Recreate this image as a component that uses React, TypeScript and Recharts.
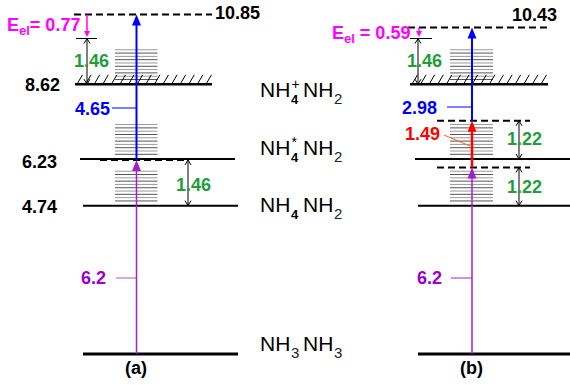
import React from 'react'
import { ComposedChart, XAxis, YAxis, ReferenceLine, ReferenceArea, ReferenceDot } from 'recharts'

const W = 570
const H = 385
const Y_MIN = -0.99
const Y_MAX = 11.31
const FONT = '"Liberation Sans", Arial, sans-serif'

// energies in eV
const levelEnergies = [0, 4.74, 6.23, 8.62]
const levelTags = ['', '4.74', '6.23', '8.62']
// [sub/sup of first NH, subscript of second NH]
const levelFormulas = [
  { sub: '3', sup: '', sub2: '3', bold: false },
  { sub: '4', sup: '', sub2: '2', bold: true },
  { sub: '4', sup: '*', sub2: '2', bold: true },
  { sub: '4', sup: '+', sub2: '2', bold: true },
]
const panelLabels = ['(a)', '(b)']

// panel (a)
const aPhotons = [6.2, 4.65]
const aVib = 1.46
const aEel = 0.77
// panel (b)
const bPhotons = [6.2, 1.49, 2.98]
const bVib = 1.22
const bEel = 0.59
const ionVib = 1.46

const [E0, E1, E2, E3] = levelEnergies
const aVirtual = E1 + aVib
const aTop = aVirtual + aPhotons[1]
const ionTop = E3 + ionVib
const bVirt1 = E1 + bVib
const bVirt2 = E2 + bVib
const bTop = bVirt2 + bPhotons[2]

const COL = {
  blue: '#0000ff',
  purple: '#a020d0',
  purpleText: '#9900cc',
  purpleTick: '#cc88ee',
  green: '#1f9e3a',
  red: '#ff0000',
  magenta: '#ff00ff',
}

// layout (x in px, since x-domain is the pixel width)
const A = { lvl: [[83, 238], [83, 238], [80, 235], [75, 212]], top: [74, 212], virt: [100, 185], ax: 136.5 }
const B = { lvl: [[418, 570], [418, 570], [415, 570], [410, 548]], top: [408, 547], virt: [437, 530], ax: 472 }
const STACK_LO = 0.15
const STACK_HI = 1.1

// convert a pixel row to energy, used only to place free text
const yAt = (py: number) => Y_MAX - (py * (Y_MAX - Y_MIN)) / H

const arrowShape = (color: string, w: number, head: number, hw: number) => (p: any) => {
  const { x1, y1, x2, y2 } = p
  const dir = y2 < y1 ? 1 : -1
  return (
    <g>
      <line x1={x1} y1={y1} x2={x2} y2={y2 + dir * head * 0.7} stroke={color} strokeWidth={w} />
      <polygon points={`${x2},${y2} ${x2 - hw / 2},${y2 + dir * head} ${x2 + hw / 2},${y2 + dir * head}`} fill={color} />
    </g>
  )
}

const dblArrow = (p: any) => {
  const { x1, y1, y2 } = p
  const top = Math.min(y1, y2)
  const bot = Math.max(y1, y2)
  return (
    <g stroke="#000" strokeWidth={1} fill="none">
      <line x1={x1} y1={top} x2={x1} y2={bot} />
      <polyline points={`${x1 - 3},${top + 5} ${x1},${top} ${x1 + 3},${top + 5}`} />
      <polyline points={`${x1 - 3},${bot - 5} ${x1},${bot} ${x1 + 3},${bot - 5}`} />
    </g>
  )
}

const hatchShape = (p: any) => {
  const { x, y, width, height } = p
  const xs: number[] = []
  for (let xi = x + 2; xi + 5 <= x + width; xi += 8.6) xs.push(xi)
  return (
    <g stroke="#000" strokeWidth={1}>
      {xs.map((xi) => (
        <line key={xi} x1={xi} y1={y + height} x2={xi + 5.5} y2={y} />
      ))}
    </g>
  )
}

const stackShape = (p: any) => {
  const { x, y, width, height } = p
  const n = 10
  const rows = Array.from({ length: n }, (_, i) => y + (i * height) / (n - 1))
  return (
    <g>
      {rows.map((ry, i) => (
        <line key={i} x1={x} y1={ry} x2={x + width} y2={ry} stroke={i % 2 ? '#555' : '#999'} strokeWidth={1} />
      ))}
    </g>
  )
}

const txt = (key: string, x: number, y: number, content: React.ReactNode, props: any = {}) => (
  <ReferenceDot
    key={key}
    x={x}
    y={y}
    r={0}
    ifOverflow="visible"
    shape={(p: any) => (
      <text x={p.cx} y={p.cy} fontFamily={FONT} fontWeight="bold" fontSize={18} dominantBaseline="central" {...props}>
        {content}
      </text>
    )}
  />
)

const formulaShape = (f: (typeof levelFormulas)[number]) => (p: any) => {
  const x = p.cx
  const b = p.cy
  return (
    <g fontFamily={FONT} fill="#000">
      <text x={x} y={b} fontSize={21}>NH</text>
      <text x={x + 31} y={b + 7} fontSize={f.bold ? 13 : 15} fontWeight={f.bold ? 'bold' : 'normal'} fill={f.bold ? '#000' : '#222'}>{f.sub}</text>
      {f.sup && <text x={x + 31.5} y={b - 8} fontSize={14}>{f.sup}</text>}
      <text x={x + 43} y={b} fontSize={21}>NH</text>
      <text x={x + 74} y={b + 7} fontSize={15} fill="#222">{f.sub2}</text>
    </g>
  )
}

const seg = (key: string, x1: number, x2: number, e: number, stroke: string, w: number, dash?: string) => (
  <ReferenceLine
    key={key}
    segment={[{ x: x1, y: e }, { x: x2, y: e }]}
    stroke={stroke}
    strokeWidth={w}
    strokeDasharray={dash}
    ifOverflow="visible"
  />
)

export default function App() {
  const labelBase = [351, 212, 155, 97]
  return (
    <div style={{ position: 'absolute', left: 0, top: 0, background: '#fff' }}>
      <ComposedChart width={W} height={H} margin={{ top: 0, right: 0, bottom: 0, left: 0 }}>
        <XAxis type="number" dataKey="x" domain={[0, W]} allowDataOverflow hide />
        <YAxis type="number" domain={[Y_MIN, Y_MAX]} allowDataOverflow hide />

        {/* vibrational stacks */}
        {[E1, E2, E3].map((e, i) => (
          <ReferenceArea key={`sa${i}`} x1={115} x2={157.5} y1={e + STACK_LO} y2={e + STACK_HI} ifOverflow="visible" shape={stackShape} />
        ))}
        {[E1, E2, E3].map((e, i) => (
          <ReferenceArea key={`sb${i}`} x1={450} x2={493} y1={e + STACK_LO} y2={e + STACK_HI} ifOverflow="visible" shape={stackShape} />
        ))}

        {/* ionization continuum hatching */}
        <ReferenceArea x1={A.lvl[3][0]} x2={A.lvl[3][1]} y1={E3} y2={E3 + 0.3} ifOverflow="visible" shape={hatchShape} />
        <ReferenceArea x1={B.lvl[3][0]} x2={B.lvl[3][1]} y1={E3} y2={E3 + 0.3} ifOverflow="visible" shape={hatchShape} />

        {/* levels */}
        {levelEnergies.map((e, i) => seg(`la${i}`, A.lvl[i][0], A.lvl[i][1], e, '#000', i === 0 ? 3 : i === 3 ? 2.5 : 2))}
        {levelEnergies.map((e, i) => seg(`lb${i}`, B.lvl[i][0], B.lvl[i][1], e, '#000', i === 0 ? 3 : i === 3 ? 2.5 : 2))}
        {seg('atop', A.top[0], A.top[1], aTop, '#000', 2, '7 4')}
        {seg('avirt', A.virt[0], A.virt[1], aVirtual, '#000', 2, '7 4')}
        {seg('btop', B.top[0], B.top[1], bTop, '#000', 2, '7 4')}
        {seg('bv1', B.virt[0], B.virt[1], bVirt1, '#000', 2, '7 4')}
        {seg('bv2', B.virt[0], B.virt[1], bVirt2, '#000', 2, '7 4')}

        {/* ticks at top of ion vib range */}
        {seg('ta', 76, 97, ionTop, '#000', 1)}
        {seg('tb', 410, 432, ionTop, '#000', 1)}

        {/* leader ticks */}
        {seg('lk1', 112, A.ax, yAt(108), COL.blue, 1)}
        {seg('lk2', 116, A.ax, yAt(278), COL.purpleTick, 1.5)}
        {seg('lk3', 447, B.ax, yAt(107), COL.blue, 1)}
        {seg('lk4', 451, B.ax, yAt(278), COL.purple, 1)}
        <ReferenceLine segment={[{ x: 444, y: yAt(135) }, { x: 470, y: yAt(146) }]} stroke="#ff6020" strokeWidth={1} ifOverflow="visible" />

        {/* transitions */}
        <ReferenceLine segment={[{ x: A.ax, y: E0 }, { x: A.ax, y: aVirtual }]} ifOverflow="visible" shape={arrowShape(COL.purple, 1.5, 11, 9)} />
        <ReferenceLine segment={[{ x: A.ax, y: aVirtual }, { x: A.ax, y: aTop }]} ifOverflow="visible" shape={arrowShape(COL.blue, 2, 11, 9)} />
        <ReferenceLine segment={[{ x: B.ax, y: E0 }, { x: B.ax, y: bVirt1 }]} ifOverflow="visible" shape={arrowShape(COL.purple, 1.5, 11, 9)} />
        <ReferenceLine segment={[{ x: B.ax, y: bVirt1 }, { x: B.ax, y: bVirt2 }]} ifOverflow="visible" shape={arrowShape(COL.red, 2.5, 11, 9)} />
        <ReferenceLine segment={[{ x: B.ax, y: bVirt2 }, { x: B.ax, y: bTop }]} ifOverflow="visible" shape={arrowShape(COL.blue, 2, 11, 9)} />

        {/* electron kinetic energy */}
        <ReferenceLine segment={[{ x: 87, y: aTop }, { x: 87, y: ionTop + 0.05 }]} ifOverflow="visible" shape={arrowShape(COL.magenta, 1.5, 6, 6)} />
        <ReferenceLine segment={[{ x: 419, y: bTop }, { x: 419, y: ionTop + 0.05 }]} ifOverflow="visible" shape={arrowShape(COL.magenta, 1.5, 6, 6)} />

        {/* vib spacing double arrows */}
        <ReferenceLine segment={[{ x: 87, y: E3 }, { x: 87, y: ionTop }]} ifOverflow="visible" shape={dblArrow} />
        <ReferenceLine segment={[{ x: 418, y: E3 }, { x: 418, y: ionTop }]} ifOverflow="visible" shape={dblArrow} />
        <ReferenceLine segment={[{ x: 188, y: E1 }, { x: 188, y: aVirtual }]} ifOverflow="visible" shape={dblArrow} />
        <ReferenceLine segment={[{ x: 519, y: E1 }, { x: 519, y: bVirt1 }]} ifOverflow="visible" shape={dblArrow} />
        <ReferenceLine segment={[{ x: 519, y: E2 }, { x: 519, y: bVirt2 }]} ifOverflow="visible" shape={dblArrow} />

        {/* level value labels */}
        {levelTags.map((t, i) => (t ? txt(`tag${i}`, i === 3 ? 25 : 22, levelEnergies[i], t, { dy: i === 2 ? 3 : 1 }) : null))}
        {txt('vtop-a', 215, aTop, aTop.toFixed(2), { dy: -1 })}
        {txt('vtop-b', 512, bTop, bTop.toFixed(2), { dy: -13 })}

        {/* formulas */}
        {levelFormulas.map((f, i) => (
          <ReferenceDot key={`f${i}`} x={260} y={yAt(labelBase[i])} r={0} ifOverflow="visible" shape={formulaShape(f)} />
        ))}

        {/* panel (a) labels */}
        {txt('eela', 7, yAt(25), (
          <>
            E<tspan fontSize={13} dy={5}>el</tspan>
            <tspan dy={-5}>{`= ${aEel.toFixed(2)}`}</tspan>
          </>
        ), { fill: COL.magenta })}
        {txt('viba', 74, yAt(61), ionVib.toFixed(2), { fill: COL.green })}
        {txt('pa2', 75, yAt(109), aPhotons[1].toFixed(2), { fill: COL.blue })}
        {txt('viba2', 176, yAt(185), aVib.toFixed(2), { fill: COL.green })}
        {txt('pa1', 81, yAt(278), String(aPhotons[0]), { fill: COL.purpleText })}
        {txt('pla', 125, yAt(368), panelLabels[0], {})}

        {/* panel (b) labels */}
        {txt('eelb', 332, yAt(33), (
          <>
            E<tspan fontSize={13} dy={5}>el</tspan>
            <tspan dy={-5}>{` = ${bEel.toFixed(2)}`}</tspan>
          </>
        ), { fill: COL.magenta })}
        {txt('vibb', 407, yAt(61), ionVib.toFixed(2), { fill: COL.green })}
        {txt('pb3', 402, yAt(108), bPhotons[2].toFixed(2), { fill: COL.blue })}
        {txt('pb2', 405, yAt(134), bPhotons[1].toFixed(2), { fill: COL.red })}
        {txt('vibb2', 507, yAt(139), bVib.toFixed(2), { fill: COL.green })}
        {txt('vibb1', 507, yAt(187), bVib.toFixed(2), { fill: COL.green })}
        {txt('pb1', 417, yAt(278), String(bPhotons[0]), { fill: COL.purpleText })}
        {txt('plb', 460, yAt(368), panelLabels[1], {})}
      </ComposedChart>
    </div>
  )
}
